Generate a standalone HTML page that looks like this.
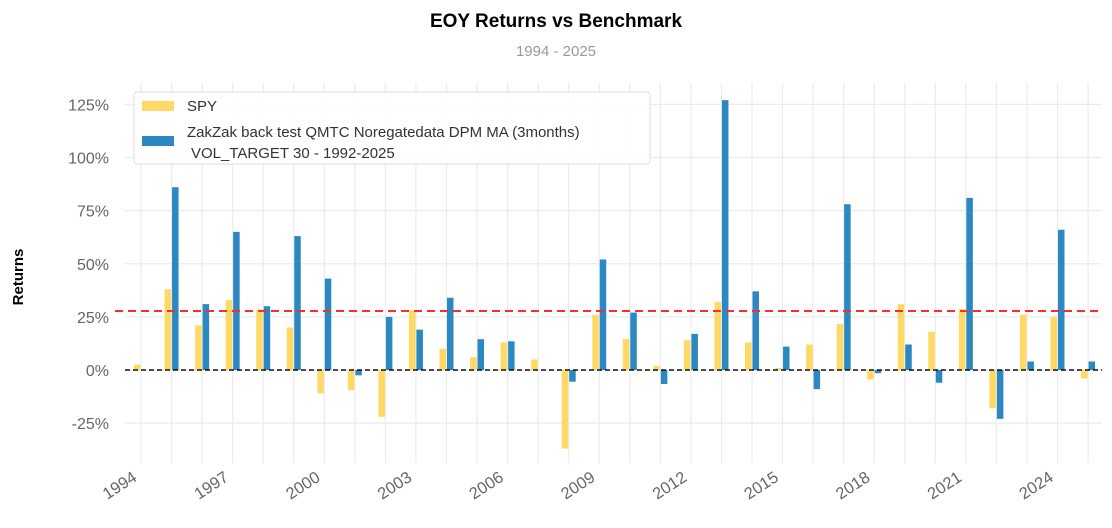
<!DOCTYPE html>
<html><head><meta charset="utf-8"><style>
html,body{margin:0;padding:0;background:#fff;}
svg{display:block;font-family:"Liberation Sans",Arial,sans-serif;}
</style></head><body>
<svg width="1112" height="528" viewBox="0 0 1112 528" xmlns="http://www.w3.org/2000/svg">
<text x="556" y="27" text-anchor="middle" font-size="19" font-weight="bold" fill="#000">EOY Returns  vs Benchmark</text>
<text x="556" y="56" text-anchor="middle" font-size="15" fill="#999">1994 - 2025</text>
<text transform="translate(23,277) rotate(-90)" text-anchor="middle" font-size="15" font-weight="bold" fill="#000">Returns</text>
<g id="grid" stroke="#ebebeb" stroke-width="1.2"></g>
<g id="ylab" font-size="16" fill="#666" text-anchor="end"></g>
<g id="bars"></g>
<line x1="115" y1="311" x2="1102" y2="311" stroke="#ff2a2a" stroke-width="2" stroke-dasharray="8,5"/>
<line x1="125" y1="370" x2="1102" y2="370" stroke="#111" stroke-width="1.5" stroke-dasharray="5,3"/>
<g id="xlab" font-size="16.5" fill="#666"></g>
<rect x="134" y="92" width="516" height="72" rx="3" fill="#fff" fill-opacity="0.9" stroke="#ddd"/>
<rect x="142" y="101" width="32" height="10" fill="#ffd966"/>
<text x="187" y="111" font-size="15" fill="#333">SPY</text>
<rect x="142" y="136" width="32" height="10" fill="#2c88c0"/>
<text x="187" y="137" font-size="15" fill="#333">ZakZak back test QMTC Noregatedata DPM MA (3months)</text>
<text x="191" y="158" font-size="15" fill="#333">VOL_TARGET 30 - 1992-2025</text>
<script>
var ns="http://www.w3.org/2000/svg";
function el(t,a,p,txt){var e=document.createElementNS(ns,t);for(var k in a)e.setAttribute(k,a[k]);if(txt!==undefined)e.textContent=txt;document.getElementById(p).appendChild(e);}
var x0=141,dx=30.55,y0=370,k=2.125;
for(var i=0;i<32;i++){var x=x0+i*dx;el('line',{x1:x,y1:83,x2:x,y2:463},'grid');}
[125,100,75,50,25,0,-25].forEach(function(v){var y=y0-v*k;el('line',{x1:125,y1:y,x2:1102,y2:y},'grid');el('text',{x:109,y:y+6},'ylab',v+'%');});
var spy=[2.5,38,21,33,28.5,20,-11,-9.5,-22,28,10,6,13,5,-37,26,14.6,2,14,32,13,1,12,21.7,-4.5,31,18,28.7,-18,26,25,-4];
var st=[0,86,31,65,30,63,43,-2.5,25,19,34,14.5,13.5,0,-5.5,52,27,-6.6,17,127,37,11,-9,78,-1.5,12,-6,81,-23,4,66,4];
for(var i=0;i<32;i++){var x=x0+i*dx;
function bar(v,xx,c){if(!v)return;var h=Math.abs(v)*k;el('rect',{x:xx,y:v>0?y0-h:y0,width:6.5,height:h,fill:c},'bars');}
bar(spy[i],x-7,'#ffd966');bar(st[i],x+0.5,'#2c88c0');
if(i%3==0)el('text',{x:0,y:0,transform:'translate('+(x-3)+',480) rotate(-33)','text-anchor':'end'},'xlab',''+(1994+i));}
</script>
</svg>
</body></html>
